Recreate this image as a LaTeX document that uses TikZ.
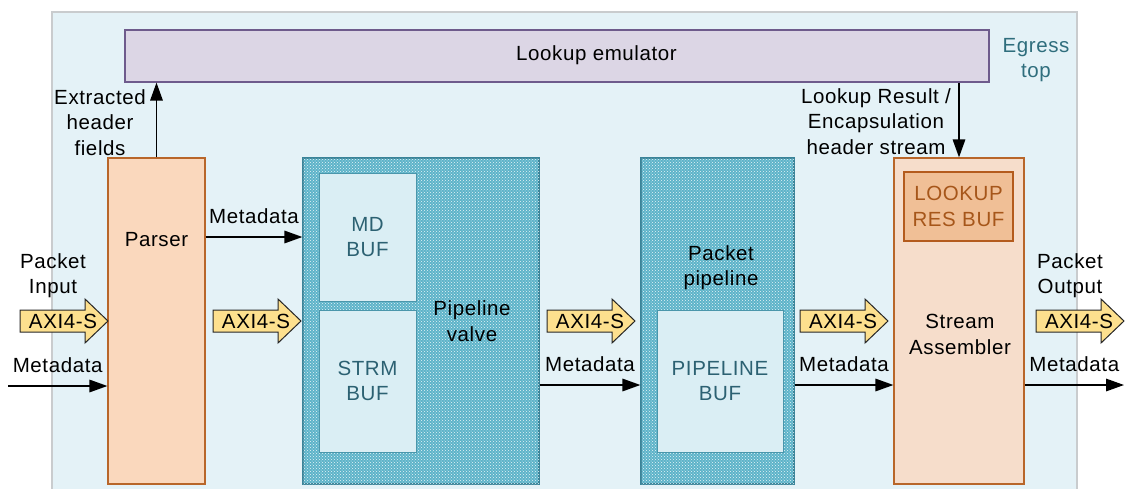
\documentclass[tikz,border=0pt]{standalone}
\usepackage{fontspec}
\setmainfont{Liberation Sans}[LetterSpace=3]
\usetikzlibrary{arrows.meta,patterns}

\definecolor{outerfill}{HTML}{E4F2F7}
\definecolor{outerline}{HTML}{C9CCCE}
\definecolor{lkfill}{HTML}{DCD6E5}
\definecolor{lkline}{HTML}{6E5B8C}
\definecolor{parsfill}{HTML}{FAD8BD}
\definecolor{asmfill}{HTML}{F6DDCB}
\definecolor{orline}{HTML}{B8662A}
\definecolor{resfill}{HTML}{F0BF96}
\definecolor{resline}{HTML}{B45B1D}
\definecolor{restext}{HTML}{A6561A}
\definecolor{tealbase}{HTML}{5DB3C9}
\definecolor{tealline}{HTML}{3A8499}
\definecolor{buffill}{HTML}{DAEEF4}
\definecolor{bufline}{HTML}{4A96AB}
\definecolor{buftext}{HTML}{2C6172}
\definecolor{axifill}{HTML}{FDE08E}
\definecolor{egtext}{HTML}{2F6E7D}

\begin{document}
\begin{tikzpicture}[x=1pt,y=-1pt,
  every node/.style={font=\fontsize{20.5}{25.5}\selectfont, inner sep=0pt},
  tealblock/.style={draw=tealline, line width=1.2pt, fill=tealbase,
    postaction={pattern=crosshatch dots, pattern color=white!85!tealbase}},
  bufbox/.style={draw=bufline, line width=1pt, fill=buffill, text=buftext, align=center},
  txt/.style={align=center, text=black},
  arr/.style={line width=1.6pt, -{Triangle[length=18pt,width=12.5pt]}},
  mdl/.style={above=13pt, anchor=south},
  axishape/.style={draw=black!85, line width=1pt, fill=axifill},
  pics/axi/.style={code={
    \draw[axishape] (-88,-11) -- (-23,-11) -- (-23,-22) -- (0,0) -- (-23,22)
      -- (-23,11) -- (-88,11) -- cycle;
    \node[txt] (-t) at (-45,0) {AXI4-S};
  }}
]
\useasboundingbox (0,0) rectangle (1130,488);

% enclosing egress block
\path[fill=outerfill, draw=outerline, line width=1.2pt] (52,12) rectangle (1077,500);
\node[text=egtext, align=center] (egress) at (1036,60) {Egress\\top};

% lookup emulator
\node[draw=lkline, line width=1.2pt, fill=lkfill, minimum width=864pt, minimum height=52pt]
  (lookup) at (557,56) {};
\node[txt] (lookuplbl) at (596.5,55) {Lookup emulator};

% parser
\node[draw=orline, line width=1.2pt, fill=parsfill, minimum width=97pt, minimum height=326pt]
  (parser) at (156.5,321) {};
\node[txt] (parserlbl) at (156.5,240) {Parser};

% pipeline valve with its buffers
\node[tealblock, minimum width=236pt, minimum height=326pt] (valve) at (421,321) {};
\node[bufbox, minimum width=97pt, minimum height=128pt] (mdbuf) at (367.5,237) {MD\\BUF};
\node[bufbox, minimum width=97pt, minimum height=142pt] (strmbuf) at (367.5,381) {STRM\\BUF};
\node[txt] (valvelbl) at (472,321) {Pipeline\\valve};

% packet pipeline
\node[tealblock, minimum width=153pt, minimum height=326pt] (pipe) at (717.5,321) {};
\node[bufbox, minimum width=126pt, minimum height=142pt] (pipebuf) at (720,381) {PIPELINE\\BUF};
\node[txt] (pipelbl) at (721,267.5) {Packet\\pipeline};

% stream assembler
\node[draw=orline, line width=1.2pt, fill=asmfill, minimum width=130pt, minimum height=326pt]
  (asm) at (959,321) {};
\node[draw=resline, line width=1.1pt, fill=resfill, minimum width=109pt, minimum height=69pt,
  text=restext, align=center] (resbuf) at (958.5,206.5) {LOOKUP\\RES BUF};
\node[txt] (asmlbl) at (960,334.5) {Stream\\Assembler};

% rows for the side-band connectors
\coordinate (mdrow) at (0,385);
\coordinate (mdin) at (8,386);
\coordinate (mdout) at (1124,385);

% header fields up, lookup result down
\draw[arr] (parser.north) -- (parser.north |- lookup.south);
\node[txt] (extlbl) at (100,122.5) {Extracted\\header\\fields};
\draw[arr] (asm.north |- lookup.south) -- (asm.north);
\node[txt] (reslbl) at (876,121.5) {Lookup Result /\\Encapsulation\\header stream};

% metadata connectors
\draw[arr] (mdbuf.west -| parser.east) -- node[mdl] {Metadata} (mdbuf.west -| valve.west);
\draw[arr] (mdin) -- node[mdl] {Metadata} (mdin -| parser.west);
\draw[arr] (valve.east |- mdrow) -- node[mdl] {Metadata} (pipe.west |- mdrow);
\draw[arr] (pipe.east |- mdrow) -- node[mdl] {Metadata} (asm.west |- mdrow);
\draw[arr] (asm.east |- mdout) -- node[mdl] {Metadata} (mdout);

% AXI4-Stream data paths
\pic (ax1) at (108,321) {axi};
\pic (ax2) at (301,321) {axi};
\pic (ax3) at (635,321) {axi};
\pic (ax4) at (888,321) {axi};
\pic (ax5) at (1124,321) {axi};
\node[txt] (inlbl) at (53,275.5) {Packet\\Input};
\node[txt] (outlbl) at (1070,275.5) {Packet\\Output};
\end{tikzpicture}
\end{document}
